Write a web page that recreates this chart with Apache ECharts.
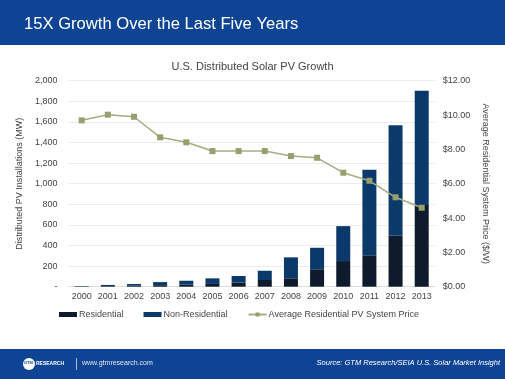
<!DOCTYPE html>
<html>
<head>
<meta charset="utf-8">
<script src="https://cdn.jsdelivr.net/npm/echarts@6/dist/echarts.min.js"></script>
<style>
html,body{margin:0;padding:0;background:#fff;}
#chart{width:505px;height:379px;}
</style>
</head>
<body>
<div id="chart"></div>
<script>
var years = ['2000','2001','2002','2003','2004','2005','2006','2007','2008','2009','2010','2011','2012','2013'];
var residential = [3, 6, 10, 15, 20, 27, 40, 65, 82, 169, 249, 304, 494, 792];
var nonResidential = [4, 11, 16, 30, 38, 54, 64, 90, 203, 209, 339, 832, 1074, 1110];
var avgPrice = [9.69, 10.02, 9.90, 8.70, 8.41, 7.90, 7.90, 7.90, 7.61, 7.51, 6.64, 6.17, 5.21, 4.60];
var leftTicks = {min: 0, max: 2000, interval: 200};
var rightTicks = {min: 0, max: 12, interval: 2};

var font = 'Liberation Sans, Arial, Helvetica, sans-serif';
var chart = echarts.init(document.getElementById('chart'), null, {renderer: 'canvas'});
chart.setOption({
  animation: false,
  backgroundColor: '#ffffff',
  textStyle: {fontFamily: font},
  title: {
    text: 'U.S. Distributed Solar PV Growth',
    left: 'center',
    top: 56,
    textStyle: {fontSize: 11, fontWeight: 'normal', color: '#444', fontFamily: font}
  },
  graphic: [
    {type: 'rect', shape: {x: 0, y: 0, width: 505, height: 45}, style: {fill: '#0f4495'}, z: 0},
    {type: 'text', left: 24, top: 16, style: {text: '15X Growth Over the Last Five Years', fill: '#fff', font: '16.6px ' + font}},
    {type: 'rect', shape: {x: 0, y: 349, width: 505, height: 30}, style: {fill: '#0f4495'}, z: 0},
    {type: 'circle', shape: {cx: 29, cy: 364, r: 6}, style: {fill: '#fff'}},
    {type: 'text', left: 24, top: 361, style: {text: 'GTM', fill: '#0f4495', font: 'bold 4px ' + font}},
    {type: 'text', left: 36, top: 361, style: {text: 'RESEARCH', fill: '#fff', font: 'bold 5px ' + font}},
    {type: 'rect', shape: {x: 76, y: 358, width: 0.8, height: 12}, style: {fill: '#cfd8ea'}},
    {type: 'text', left: 82, top: 360, style: {text: 'www.gtmresearch.com', fill: '#dfe6f3', font: '7px ' + font}},
    {type: 'text', right: 5, top: 359, style: {text: 'Source: GTM Research/SEIA U.S. Solar Market Insight', fill: '#fff', font: 'italic 7.5px ' + font}}
  ],
  legend: {
    left: 59,
    top: 310,
    padding: 0,
    itemWidth: 18,
    itemHeight: 5,
    itemGap: 20,
    textStyle: {fontSize: 9, color: '#444', fontFamily: font, padding: [0, 0, 0, -3]},
    data: [
      {name: 'Residential', icon: 'rect'},
      {name: 'Non-Residential', icon: 'rect'},
      {name: 'Average Residential PV System Price'}
    ]
  },
  grid: {left: 68.6, right: 70.2, top: 80.7, bottom: 92.3, containLabel: false},
  xAxis: {
    type: 'category',
    data: years,
    axisLine: {show: true, lineStyle: {color: '#dcdcdc'}},
    axisTick: {show: false},
    axisLabel: {fontSize: 9, color: '#444', margin: 5, fontFamily: font}
  },
  yAxis: [
    {
      type: 'value',
      min: leftTicks.min, max: leftTicks.max, interval: leftTicks.interval,
      name: 'Distributed PV Installations (MW)',
      nameLocation: 'middle',
      nameRotate: 90,
      nameGap: 43,
      nameTextStyle: {fontSize: 9, color: '#444', fontFamily: font},
      axisLine: {show: false},
      axisTick: {show: false},
      splitLine: {lineStyle: {color: '#ececec'}},
      axisLabel: {
        fontSize: 9, color: '#444', margin: 11, fontFamily: font,
        formatter: function (v) { return v === 0 ? '-' : v.toLocaleString('en-US'); }
      }
    },
    {
      type: 'value',
      min: rightTicks.min, max: rightTicks.max, interval: rightTicks.interval,
      name: 'Average Residential System Price ($/W)',
      nameLocation: 'middle',
      nameRotate: -90,
      nameGap: 37,
      nameTextStyle: {fontSize: 9, color: '#444', fontFamily: font},
      axisLine: {show: false},
      axisTick: {show: false},
      splitLine: {show: false},
      axisLabel: {
        fontSize: 9, color: '#444', margin: 8, fontFamily: font,
        formatter: function (v) { return '$' + v.toFixed(2); }
      }
    }
  ],
  series: [
    {
      name: 'Residential', type: 'bar', stack: 'mw', data: residential,
      barWidth: 14, itemStyle: {color: '#0f1b2c'}
    },
    {
      name: 'Non-Residential', type: 'bar', stack: 'mw', data: nonResidential,
      barWidth: 14, itemStyle: {color: '#0b3a6a'}
    },
    {
      name: 'Average Residential PV System Price', type: 'line', yAxisIndex: 1, data: avgPrice,
      symbol: 'rect', symbolSize: 6, z: 5,
      lineStyle: {color: '#a6ab82', width: 1.5},
      itemStyle: {color: '#979f6e'}
    }
  ]
});
</script>
</body>
</html>
